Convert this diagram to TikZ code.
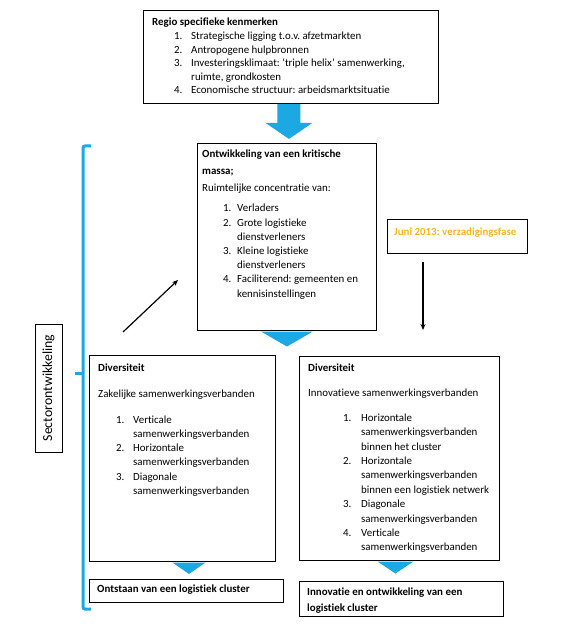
\documentclass[tikz,border=0pt]{standalone}
\usepackage{fontspec}
\setmainfont[Ligatures=CommonOff]{Carlito}
\usetikzlibrary{calc,arrows.meta}
\definecolor{skyblue}{RGB}{28,168,226}
\definecolor{gold}{RGB}{247,182,32}
\frenchspacing
\begin{document}
\begin{tikzpicture}[x=1pt,y=-1pt,
  box/.style={draw, line width=0.9pt, rectangle, anchor=north west, inner sep=0pt},
  txt/.style={anchor=north west, inner sep=0pt, align=left},
  fs/.style={font=\fontsize{10.9}{#1}\selectfont},
  blk/.style={fill=skyblue},
  thinarrow/.style={-{Stealth[length=6pt,width=5pt]}, line width=1.2pt}]
\useasboundingbox (0,0) rectangle (563,631);
% boxes
\node[box, minimum width=295pt, minimum height=93pt] (regio) at (143,10) {};
\node[box, minimum width=179pt, minimum height=187pt] (crit) at (197,143) {};
\node[box, minimum width=140pt, minimum height=34pt] (juni) at (387,219) {};
\node[box, minimum width=186pt, minimum height=206pt] (ldiv) at (89,355) {};
\node[box, minimum width=200pt, minimum height=204pt] (rdiv) at (299,356) {};
\node[box, minimum width=194pt, minimum height=23pt] (lend) at (89,579) {};
\node[box, minimum width=204pt, minimum height=35pt] (rend) at (299,581) {};
\node[box, anchor=center, rotate=90, minimum width=128pt, minimum height=27pt,
      font=\fontsize{13.8}{16}\selectfont] (sector) at (48.5,388) {Sectorontwikkeling};
% texts
\node[txt, fs=13.6] (regiot) at ($(regio.north west)+(9,8)$) {%
\textbf{Regio specifieke kenmerken}\\
\hspace*{22pt}\makebox[17pt][l]{1.}Strategische ligging t.o.v. afzetmarkten\\
\hspace*{22pt}\makebox[17pt][l]{2.}Antropogene hulpbronnen\\
\hspace*{22pt}\makebox[17pt][l]{3.}Investeringsklimaat: ‘triple helix’ samenwerking,\\
\hspace*{39pt}ruimte, grondkosten\\
\hspace*{22pt}\makebox[17pt][l]{4.}Economische structuur: arbeidsmarktsituatie};
\node[txt, fs=14.2] (critt) at ($(crit.north west)+(5,7)$) {%
\textbf{Ontwikkeling van een kritische}\\[2.8pt]
\textbf{massa;}\\[2.8pt]
Ruimtelijke concentratie van:\\[5.8pt]
\hspace*{21pt}\makebox[14pt][l]{1.}Verladers\\
\hspace*{21pt}\makebox[14pt][l]{2.}Grote logistieke\\
\hspace*{35pt}dienstverleners\\
\hspace*{21pt}\makebox[14pt][l]{3.}Kleine logistieke\\
\hspace*{35pt}dienstverleners\\
\hspace*{21pt}\makebox[14pt][l]{4.}Faciliterend: gemeenten en\\
\hspace*{35pt}kennisinstellingen};
\node[txt, text=gold, font=\fontsize{10.9}{14}\selectfont\bfseries] (junit) at ($(juni.north west)+(7,9)$) {Juni 2013: verzadigingsfase};
\node[txt, fs=14.1] (ldivt) at ($(ldiv.north west)+(9,9)$) {%
\textbf{Diversiteit}\\[11.8pt]
Zakelijke samenwerkingsverbanden\\[11.8pt]
\hspace*{18pt}\makebox[17pt][l]{1.}Verticale\\
\hspace*{35pt}samenwerkingsverbanden\\
\hspace*{18pt}\makebox[17pt][l]{2.}Horizontale\\
\hspace*{35pt}samenwerkingsverbanden\\
\hspace*{18pt}\makebox[17pt][l]{3.}Diagonale\\
\hspace*{35pt}samenwerkingsverbanden};
\node[txt, fs=14.4] (rdivt) at ($(rdiv.north west)+(9,7.5)$) {%
\textbf{Diversiteit}\\[10.6pt]
Innovatieve samenwerkingsverbanden\\[10.6pt]
\hspace*{35pt}\makebox[18pt][l]{1.}Horizontale\\
\hspace*{53pt}samenwerkingsverbanden\\
\hspace*{53pt}binnen het cluster\\
\hspace*{35pt}\makebox[18pt][l]{2.}Horizontale\\
\hspace*{53pt}samenwerkingsverbanden\\
\hspace*{53pt}binnen een logistiek netwerk\\
\hspace*{35pt}\makebox[18pt][l]{3.}Diagonale\\
\hspace*{53pt}samenwerkingsverbanden\\
\hspace*{35pt}\makebox[18pt][l]{4.}Verticale\\
\hspace*{53pt}samenwerkingsverbanden};
\node[txt, font=\fontsize{10.9}{14}\selectfont\bfseries] (lendt) at ($(lend.north west)+(8,6)$) {Ontstaan van een logistiek cluster};
\node[txt, font=\fontsize{10.9}{16}\selectfont\bfseries] (rendt) at ($(rend.north west)+(8,6.5)$) {Innovatie en ontwikkeling van een\\logistiek cluster};
% blue block arrows
\fill[blk] ($(regio.south)+(-13.5,0)$) -- ++(23,0) -- ++(0,19) -- ++(12,0)
   -- ++(-23.5,16) -- ++(-23.5,-16) -- ++(12,0) -- cycle;
\fill[blk] ($(crit.south)+(-26,0.6)$) -- ++(52,0) -- ++(-26,15) -- cycle;
\fill[blk] ($(ldiv.south)+(-10,0.6)$) -- ++(33,0) -- ++(-16.5,11.5) -- cycle;
\fill[blk] ($(rdiv.south)+(-22,0.6)$) -- ++(36,0) -- ++(-18,12) -- cycle;
% bracket
\draw[skyblue, line width=3pt, rounded corners=2pt] (91,146) -- (83,146) -- (83,609) -- (91,609);
\draw[skyblue, line width=3pt] (83,373) -- (75,373);
% thin arrows
\coordinate (d1) at (123,332);
\coordinate (d2) at (178,280);
\draw[thinarrow] (d1) -- (d2);
\coordinate (v1) at (423,262);
\coordinate (v2) at (423,330);
\draw[thinarrow] (v1) -- (v2);
\end{tikzpicture}
\end{document}
